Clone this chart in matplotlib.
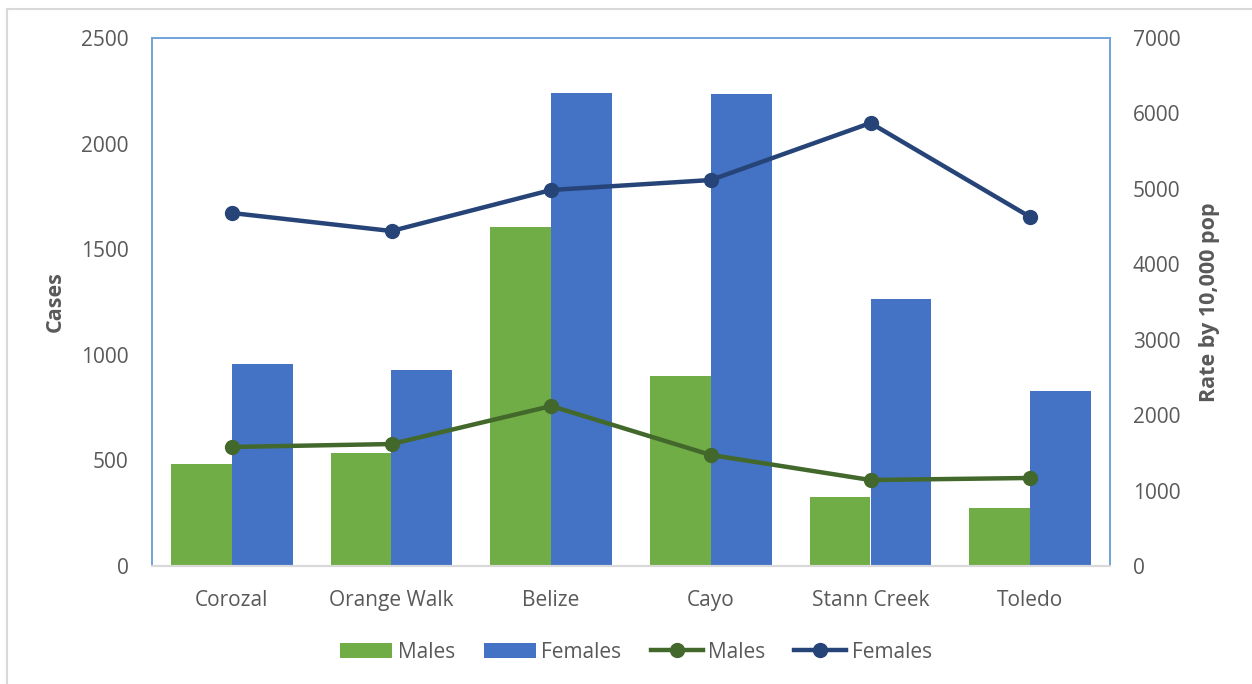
import matplotlib
matplotlib.use('Agg')
import matplotlib.pyplot as plt
from matplotlib.lines import Line2D
from matplotlib.patches import Patch
import numpy as np

# ─── Data ────────────────────────────────────────────────────────────────────
districts = ["Corozal", "Orange Walk", "Belize", "Cayo", "Stann Creek", "Toledo"]
cases_males = [483, 535, 1605, 900, 327, 275]
cases_females = [956, 928, 2240, 2235, 1264, 829]
rate_males = [1578, 1617, 2121, 1472, 1140, 1167]
rate_females = [4680, 4441, 4985, 5117, 5873, 4627]

# ─── Colours ─────────────────────────────────────────────────────────────────
GREEN = "#70AD47"
BLUE = "#4472C4"
DARK_GREEN = "#43682B"
NAVY = "#264478"
TEXT = "#595959"
FRAME = "#6FA3D8"
GRID_GRAY = "#D9D9D9"

plt.rcParams['font.family'] = ['Open Sans', 'DejaVu Sans']

fig = plt.figure(figsize=(12.52, 6.84), dpi=100)
fig.patch.set_facecolor("white")

# outer chart border (only top and left visible)
fig.add_artist(Line2D([7 / 1252, 1], [1 - 9 / 684, 1 - 9 / 684],
                      transform=fig.transFigure, color=GRID_GRAY, lw=1.5))
fig.add_artist(Line2D([7 / 1252, 7 / 1252], [0, 1 - 9 / 684],
                      transform=fig.transFigure, color=GRID_GRAY, lw=1.5))

ax = fig.add_axes([152 / 1252, 118 / 684, 958 / 1252, 528 / 684])
ax2 = ax.twinx()

x = np.arange(len(districts))
w = 0.38
ax.bar(x - w / 2, cases_males, width=w, color=GREEN, zorder=2)
ax.bar(x + w / 2, cases_females, width=w, color=BLUE, zorder=2)

ax2.plot(x, rate_males, color=DARK_GREEN, lw=3.2, marker='o', ms=10, zorder=3)
ax2.plot(x, rate_females, color=NAVY, lw=3.2, marker='o', ms=10, zorder=3)

ax.set_xlim(-0.5, len(districts) - 0.5)
ax.set_ylim(0, 2500)
ax.set_yticks(range(0, 2501, 500))
ax2.set_ylim(0, 7000)
ax2.set_yticks(range(0, 7001, 1000))

ax.set_xticks(x)
ax.set_xticklabels(districts)

for a in (ax, ax2):
    a.tick_params(length=0, labelsize=15, colors=TEXT)
    for spine in a.spines.values():
        spine.set_color(FRAME)
        spine.set_linewidth(1.2)
    a.spines['bottom'].set_color(GRID_GRAY)
    a.spines['bottom'].set_linewidth(1.5)
ax.tick_params(axis='y', pad=17)
ax.tick_params(axis='x', pad=17)
ax2.tick_params(axis='y', pad=16.5)

ax.set_ylabel("Cases", fontsize=15.5, fontweight='bold', color=TEXT, labelpad=11)
ax2.set_ylabel("Rate by 10,000 pop", fontsize=15.5, fontweight='bold', color=TEXT, labelpad=13)

handles = [
    Patch(facecolor=GREEN, label="Males"),
    Patch(facecolor=BLUE, label="Females"),
    Line2D([], [], color=DARK_GREEN, lw=3.2, marker='o', ms=10, label="Males"),
    Line2D([], [], color=NAVY, lw=3.2, marker='o', ms=10, label="Females"),
]
fig.legend(handles=handles, loc='center', bbox_to_anchor=(636 / 1252, 1 - 652 / 684),
           ncol=4, frameon=False, fontsize=15, labelcolor=TEXT,
           handlelength=2.5, handletextpad=0.25, columnspacing=1.4)

fig.savefig("out.png", dpi=100, facecolor="white")
